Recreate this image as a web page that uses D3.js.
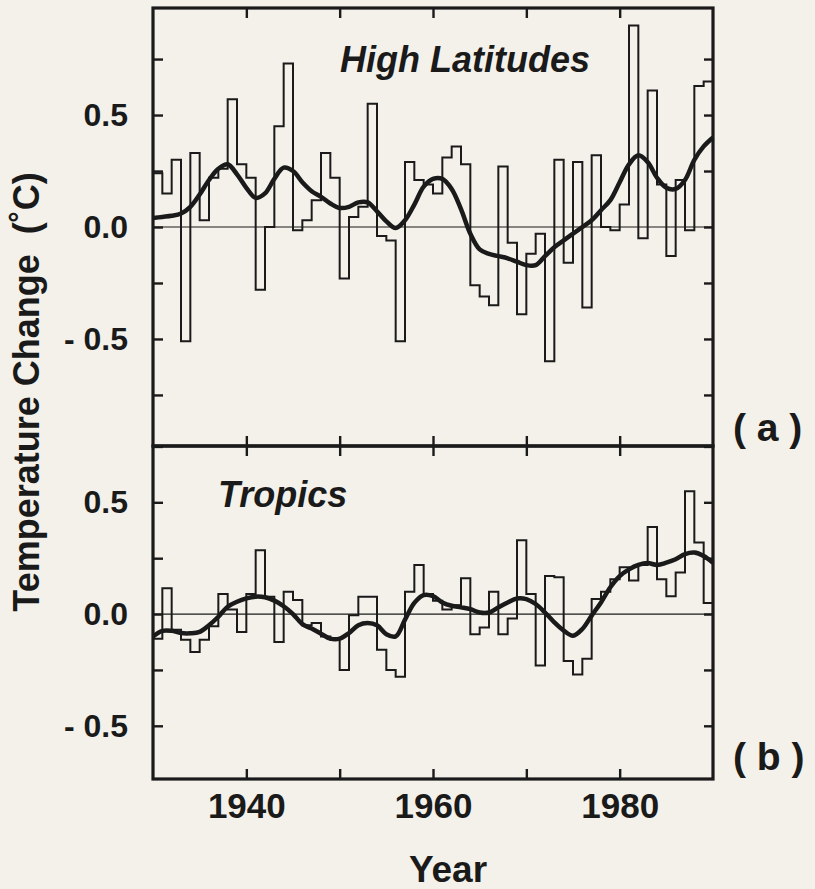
<!DOCTYPE html>
<html>
<head>
<meta charset="utf-8">
<script src="https://cdn.jsdelivr.net/npm/d3@7"></script>
<style>
  html, body { margin: 0; padding: 0; background: #f3f1ea; }
  svg { display: block; font-family: "Liberation Sans", Arial, Helvetica, sans-serif; font-weight: bold; }
</style>
</head>
<body>
<svg id="chart" width="815" height="889"></svg>
<script>
// annual anomalies, each step covers year .. year+1
const years = d3.range(1930, 1990);

const highLat = [
  0.24, 0.15, 0.30, -0.51, 0.33, 0.03, 0.22, 0.26, 0.57, 0.28,
  0.22, -0.28, 0.00, 0.45, 0.73, -0.015, 0.03, 0.12, 0.33, 0.22,
  -0.23, 0.045, 0.09, 0.55, -0.04, -0.06, -0.51, 0.29, 0.21, 0.19,
  0.15, 0.31, 0.36, 0.28, -0.26, -0.31, -0.35, 0.27, -0.07, -0.39,
  -0.12, -0.03, -0.60, 0.30, -0.16, 0.29, -0.36, 0.32, 0.0, -0.015,
  0.10, 0.90, -0.05, 0.61, 0.19, -0.13, 0.21, -0.015, 0.63, 0.65
];

const tropics = [
  -0.11, 0.115, -0.07, -0.115, -0.17, -0.115, -0.055, 0.09, 0.02, -0.08,
  0.09, 0.285, 0.077, -0.125, 0.10, 0.063, -0.05, -0.04, -0.10, -0.115,
  -0.25, -0.005, 0.077, 0.077, -0.16, -0.25, -0.28, 0.10, 0.22, 0.09,
  0.06, 0.02, 0.04, 0.16, -0.09, -0.06, 0.10, -0.09, -0.02, 0.33,
  0.09, -0.23, 0.17, 0.165, -0.21, -0.27, -0.20, 0.067, 0.10, 0.156,
  0.21, 0.15, 0.22, 0.39, 0.156, 0.08, 0.186, 0.55, 0.32, 0.05
];

// smoothed curves, read at whole years 1930..1990
const smoothYears = d3.range(1930, 1991);

const highLatSmooth = [
  0.04, 0.045, 0.05, 0.06, 0.09, 0.145, 0.21, 0.26, 0.28, 0.235,
  0.175, 0.13, 0.15, 0.215, 0.265, 0.25, 0.20, 0.16, 0.135, 0.105,
  0.085, 0.09, 0.11, 0.11, 0.07, 0.025, -0.005, 0.03, 0.10, 0.18,
  0.215, 0.215, 0.17, 0.08, -0.03, -0.10, -0.12, -0.13, -0.14, -0.155,
  -0.17, -0.17, -0.13, -0.09, -0.06, -0.03, 0.0, 0.03, 0.075, 0.12,
  0.20, 0.28, 0.32, 0.29, 0.22, 0.175, 0.17, 0.21, 0.30, 0.36,
  0.40
];

const tropicsSmooth = [
  -0.10, -0.075, -0.075, -0.085, -0.086, -0.08, -0.05, -0.012, 0.033, 0.055,
  0.07, 0.078, 0.075, 0.06, 0.035, 0.0, -0.045, -0.065, -0.088, -0.11,
  -0.11, -0.085, -0.05, -0.04, -0.05, -0.09, -0.10, -0.025, 0.05, 0.085,
  0.08, 0.052, 0.037, 0.03, 0.022, 0.007, 0.007, 0.03, 0.052, 0.07,
  0.067, 0.045, 0.007, -0.037, -0.074, -0.097, -0.067, -0.007, 0.052, 0.12,
  0.17, 0.20, 0.22, 0.228, 0.22, 0.23, 0.245, 0.268, 0.275, 0.26,
  0.23
];

const yTicks = [-0.75, -0.5, -0.25, 0, 0.25, 0.5, 0.75];
const yTickLabels = { "-0.5": "- 0.5", "0": "0.0", "0.5": "0.5" };
const xTicks = [1940, 1950, 1960, 1970, 1980];
const xTickLabels = [1940, 1960, 1980];

const ink = "#1a1a1a";
const left = 153, right = 713;

const svg = d3.select("#chart");

const x = d3.scaleLinear().domain([1930, 1990]).range([left, right]);

const panels = [
  { title: "High Latitudes", tag: "( a )", values: highLat, smooth: highLatSmooth,
    y: d3.scaleLinear().domain([-0.978, 0.978]).range([446, 8]),
    titleX: 340, titleY: 72, tagY: 441 },
  { title: "Tropics", tag: "( b )", values: tropics, smooth: tropicsSmooth,
    y: d3.scaleLinear().domain([-0.738, 0.752]).range([779, 446]),
    titleX: 218, titleY: 507, tagY: 770 }
];

panels.forEach((p, idx) => {
  const y = p.y;
  const top = y.range()[1], bottom = y.range()[0];
  const g = svg.append("g");

  // zero line
  g.append("line")
    .attr("x1", left).attr("x2", right)
    .attr("y1", y(0)).attr("y2", y(0))
    .attr("stroke", ink).attr("stroke-width", 1.2);

  // stepped outline of the annual values
  const stepPts = [[1930, 0]]
    .concat(years.map((yr, i) => [yr, p.values[i]]))
    .concat([[1990, p.values[p.values.length - 1]], [1990, 0]]);
  g.append("path")
    .datum(stepPts)
    .attr("fill", "none")
    .attr("stroke", ink)
    .attr("stroke-width", 2)
    .attr("d", d3.line().x(d => x(d[0])).y(d => y(d[1])).curve(d3.curveStepAfter));

  // smoothed curve
  g.append("path")
    .datum(smoothYears.map((yr, i) => [yr, p.smooth[i]]))
    .attr("fill", "none")
    .attr("stroke", ink)
    .attr("stroke-width", 4.5)
    .attr("stroke-linejoin", "round")
    .attr("d", d3.line().x(d => x(d[0])).y(d => y(d[1])).curve(d3.curveCatmullRom.alpha(0.5)));

  // left axis with labels
  const ticks = yTicks.filter(v => v > y.domain()[0] && v < y.domain()[1]);
  const la = g.append("g")
    .attr("transform", `translate(${left},0)`)
    .call(d3.axisLeft(y).tickValues(ticks).tickSizeInner(-10).tickSizeOuter(0)
      .tickPadding(25).tickFormat(v => yTickLabels[String(v)] || ""));
  la.select(".domain").remove();
  la.selectAll("line").attr("stroke", ink).attr("stroke-width", 2.4);
  la.selectAll("text").attr("fill", ink).attr("font-size", 32)
    .attr("font-family", "Liberation Sans, Arial, sans-serif").attr("font-weight", "bold");

  // right axis, ticks only
  const ra = g.append("g")
    .attr("transform", `translate(${right},0)`)
    .call(d3.axisRight(y).tickValues(ticks).tickSizeInner(-9).tickSizeOuter(0).tickFormat(""));
  ra.select(".domain").remove();
  ra.selectAll("line").attr("stroke", ink).attr("stroke-width", 2.4);

  // top ticks
  const ta = g.append("g")
    .attr("transform", `translate(0,${top})`)
    .call(d3.axisTop(x).tickValues(xTicks).tickSizeInner(-10).tickSizeOuter(0).tickFormat(""));
  ta.select(".domain").remove();
  ta.selectAll("line").attr("stroke", ink).attr("stroke-width", 2.4);

  // bottom ticks
  const ba = g.append("g")
    .attr("transform", `translate(0,${bottom})`)
    .call(d3.axisBottom(x).tickValues(xTicks).tickSizeInner(-10).tickSizeOuter(0)
      .tickFormat(v => (idx === 1 && xTickLabels.includes(v)) ? String(v) : ""));
  ba.select(".domain").remove();
  ba.selectAll("line").attr("stroke", ink).attr("stroke-width", 2.4);
  ba.selectAll("text").attr("fill", ink).attr("font-size", 35)
    .attr("font-family", "Liberation Sans, Arial, sans-serif").attr("font-weight", "bold")
    .attr("y", 39).attr("dy", null);

  // frame
  g.append("rect")
    .attr("x", left).attr("y", top)
    .attr("width", right - left).attr("height", bottom - top)
    .attr("fill", "none").attr("stroke", ink).attr("stroke-width", 3.2);

  // panel title
  g.append("text")
    .attr("x", p.titleX).attr("y", p.titleY)
    .attr("font-size", 36).attr("font-style", "italic")
    .attr("fill", ink)
    .text(p.title);

  // panel tag
  g.append("text")
    .attr("x", 733).attr("y", p.tagY)
    .attr("font-size", 39)
    .attr("fill", ink)
    .attr("xml:space", "preserve")
    .text(p.tag);
});

// axis titles
svg.append("text")
  .attr("transform", "translate(39,392) rotate(-90)")
  .attr("text-anchor", "middle")
  .attr("font-size", 36)
  .attr("fill", ink)
  .text("Temperature Change\u00a0 (\u02daC)");

svg.append("text")
  .attr("x", 448).attr("y", 882)
  .attr("text-anchor", "middle")
  .attr("font-size", 37)
  .attr("fill", ink)
  .text("Year");
</script>
</body>
</html>
